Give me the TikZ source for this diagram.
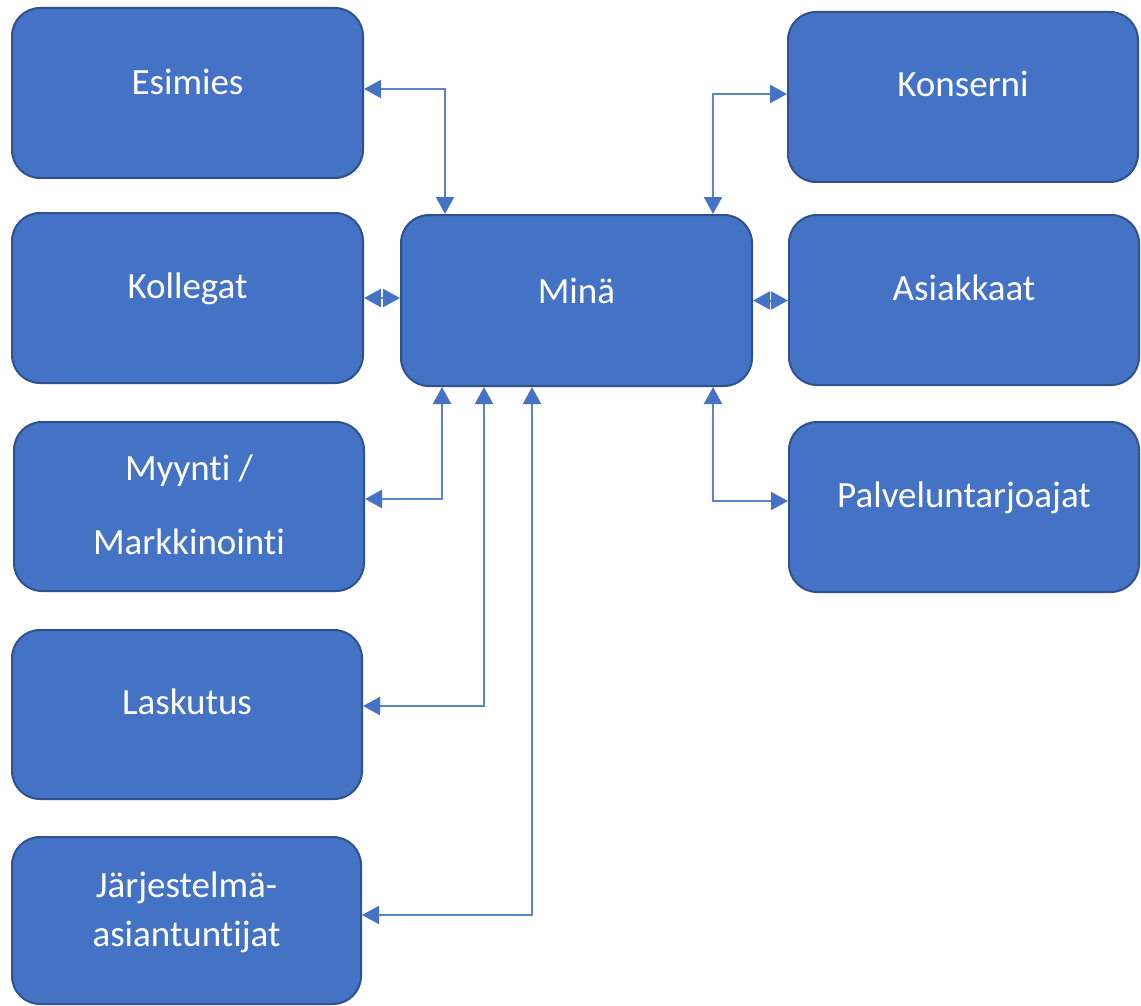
\documentclass[tikz,border=0pt]{standalone}
\usepackage{fontspec}
\setmainfont{Carlito}[Ligatures={NoCommon}]
\usetikzlibrary{arrows.meta}
\definecolor{boxfill}{HTML}{4472C4}
\definecolor{boxline}{HTML}{2F528F}
\definecolor{conncol}{HTML}{5B83CF}
\definecolor{tipcol}{HTML}{4472C4}
\tikzset{
  box/.style={draw=boxline, fill=boxfill, line width=2pt, rounded corners=28pt,
    minimum width=351pt, minimum height=170pt, inner sep=0pt, text=white,
    font=\fontsize{37}{44}\selectfont, text height=20pt, text depth=20pt},
  conn/.style={draw=conncol, line width=2pt,
    {Triangle[length=17pt,width=18pt,color=tipcol]}-{Triangle[length=17pt,width=18pt,color=tipcol]}}
}
\begin{document}
\begin{tikzpicture}[x=1pt,y=-1pt]
\useasboundingbox (0,0) rectangle (1141,1006);
\node[box, text height=22pt, text depth=18pt] (esimies) at (187.5,93) {Esimies};
\node[box] (kollegat) at (187.5,298) {Kollegat};
\node[box, minimum width=350pt, minimum height=169pt, font=\fontsize{37}{74}\selectfont, text height=22pt, text depth=75pt] (myynti) at (189,506.5) {\begin{tabular}[t]{@{}c@{}}Myynti /\\Markkinointi\end{tabular}};
\node[box, minimum width=350pt, minimum height=169pt] (laskutus) at (187,714.5) {Laskutus};
\node[box, minimum width=349pt, minimum height=167pt, font=\fontsize{37}{49}\selectfont, text depth=67pt] (jarj) at (186.5,920.5) {\begin{tabular}[t]{@{}c@{}}Järjestelmä-\\asiantuntijat\end{tabular}};
\node[box, minimum height=171pt, text height=23pt, text depth=17pt] (mina) at (576.5,300.5) {Minä};
\node[box, minimum width=350pt] (konserni) at (963,97) {Konserni};
\node[box, minimum width=350pt] (asiakkaat) at (964,300) {Asiakkaat};
\node[box, minimum width=350pt] (palv) at (964,507) {Palveluntarjoajat};

\draw[conn] ([yshift=4pt]esimies.east) -| ([xshift=-131.5pt]mina.north);
\draw[conn] ([xshift=136.5pt]mina.north) |- ([yshift=3pt]konserni.west);
\draw[conn] (kollegat.east) -- (kollegat.east -| mina.west);
\draw[conn] (mina.east) -- (mina.east -| asiakkaat.west);
\draw[conn] ([xshift=-134.5pt]mina.south) |- ([yshift=7.5pt]myynti.east);
\draw[conn] ([xshift=-92.5pt]mina.south) |- ([yshift=8.5pt]laskutus.east);
\draw[conn] ([xshift=-44.5pt]mina.south) |- ([yshift=5.5pt]jarj.east);
\draw[conn] ([xshift=136.5pt]mina.south) |- ([yshift=6pt]palv.west);
\end{tikzpicture}
\end{document}
